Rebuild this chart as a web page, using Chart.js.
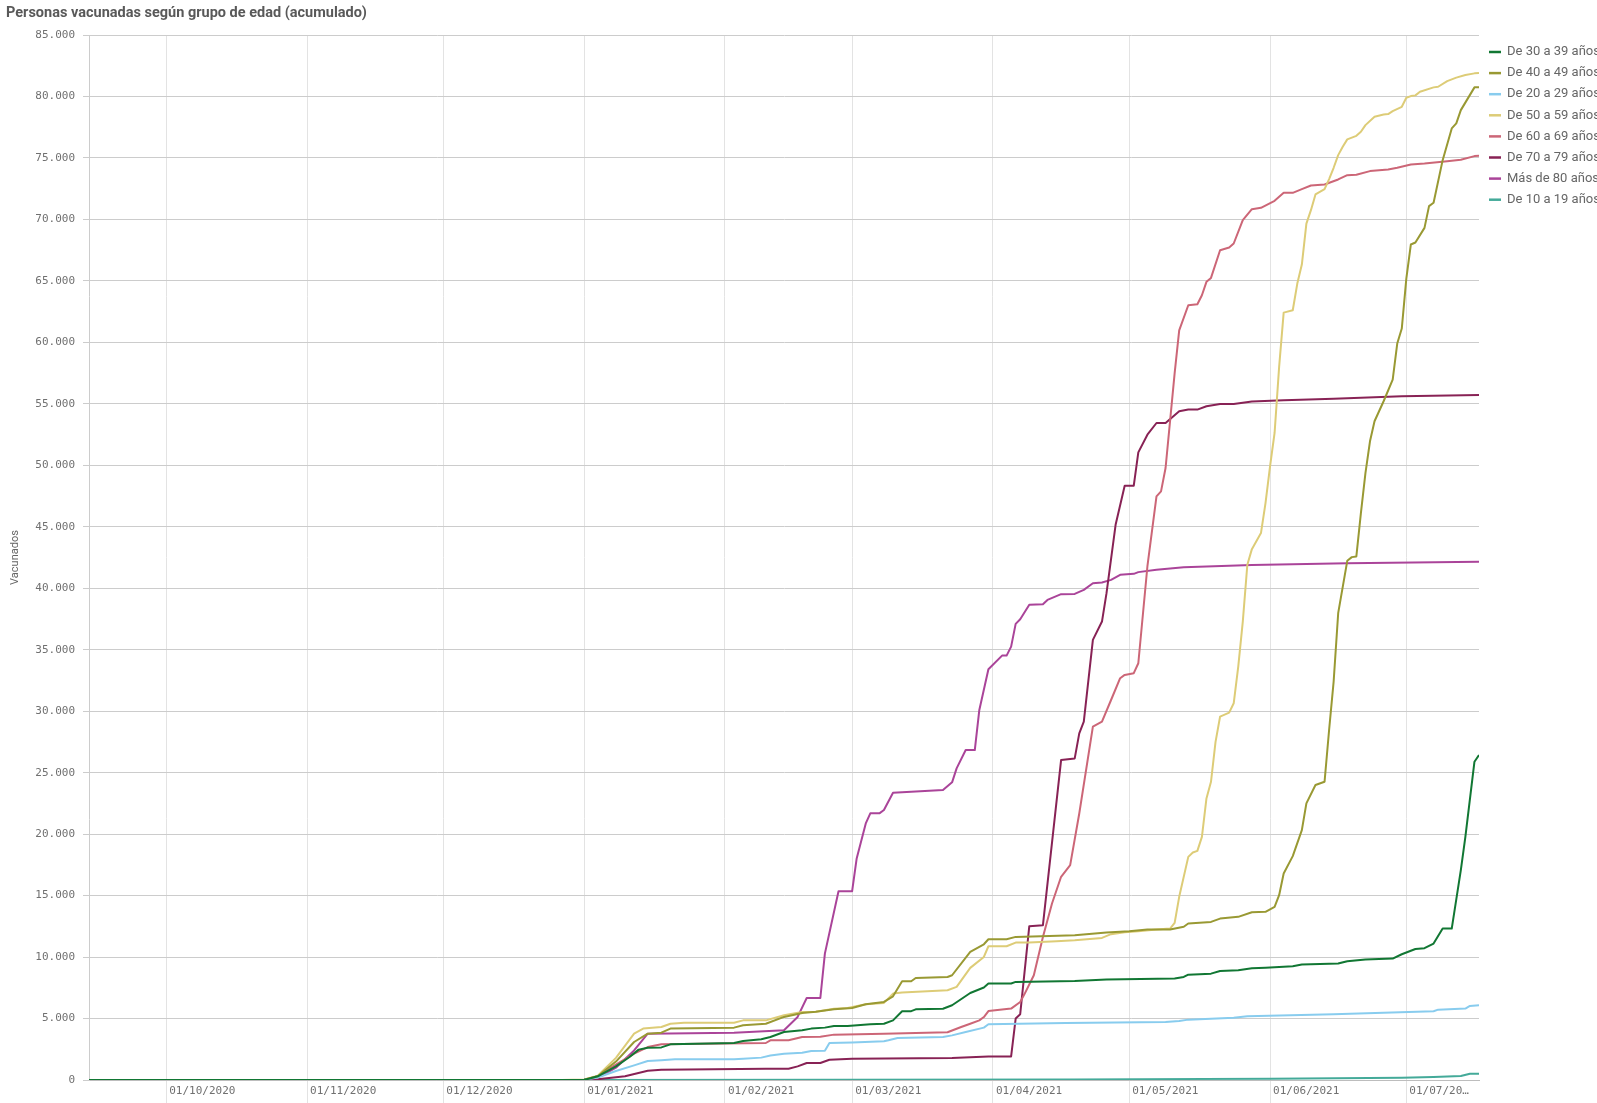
<!DOCTYPE html>
<html lang="es">
<head>
<meta charset="utf-8">
<title>Personas vacunadas según grupo de edad</title>
<script src="https://cdn.jsdelivr.net/npm/chart.js@4.4.1/dist/chart.umd.min.js"></script>
<style>
  html, body { margin: 0; padding: 0; background: #ffffff; }
  canvas { display: block; }
</style>
</head>
<body>
<canvas id="vacunados-edad-chart" width="1597" height="1103"></canvas>
<script>
// dias contados desde el 01/10/2020 (dia 0)
const tickDays = [0, 31, 61, 92, 123, 151, 182, 212, 243, 273];
const tickLabels = [
  "01/10/2020",
  "01/11/2020",
  "01/12/2020",
  "01/01/2021",
  "01/02/2021",
  "01/03/2021",
  "01/04/2021",
  "01/05/2021",
  "01/06/2021",
  "01/07/20…",
];

const seriesNames = [
  "De 30 a 39 años",
  "De 40 a 49 años",
  "De 20 a 29 años",
  "De 50 a 59 años",
  "De 60 a 69 años",
  "De 70 a 79 años",
  "Más de 80 años",
  "De 10 a 19 años",
];

// [dia, vacunados acumulados]
const de30a39 = [
  [-17, 0], [87, 0], [92, 30], [93, 100], [95, 300], [99, 1110], [102, 1870], [104, 2470],
  [106, 2630], [109, 2650], [111, 2900], [125, 3010], [127, 3170], [131, 3310], [133, 3500],
  [136, 3900], [140, 4040], [142, 4180], [145, 4260], [147, 4390], [150, 4400], [155, 4530],
  [158, 4580], [160, 4850], [162, 5590], [164, 5600], [165, 5750], [171, 5800], [173, 6080],
  [177, 7080], [180, 7520], [181, 7840], [186, 7850], [187, 7980], [200, 8060], [207, 8170],
  [222, 8250], [224, 8380], [225, 8570], [230, 8650], [232, 8870], [236, 8930], [239, 9090],
  [242, 9140], [248, 9250], [250, 9390], [258, 9470], [260, 9660], [264, 9800], [270, 9880],
  [272, 10230], [275, 10660], [277, 10720], [279, 11100], [281, 12320], [283, 12320],
  [285, 17070], [286, 19780], [288, 25890], [289, 26430],
];
const de40a49 = [
  [87, 0], [92, 30], [95, 300], [99, 1500], [103, 3090], [106, 3770], [109, 3850], [111, 4180],
  [125, 4260], [127, 4450], [132, 4580], [136, 5130], [140, 5450], [143, 5550], [147, 5750],
  [151, 5860], [154, 6160], [158, 6350], [160, 6810], [162, 8030], [164, 8030], [165, 8300],
  [172, 8380], [173, 8520], [177, 10420], [180, 11040], [181, 11450], [185, 11450],
  [187, 11640], [200, 11780], [207, 11990], [212, 12100], [216, 12240], [221, 12240],
  [224, 12460], [225, 12730], [230, 12860], [232, 13130], [236, 13270], [239, 13650],
  [242, 13680], [244, 14080], [245, 15030], [246, 16800], [248, 18210], [250, 20330],
  [251, 22500], [253, 23990], [255, 24260], [256, 28470], [257, 32410], [258, 37970],
  [260, 42230], [261, 42530], [262, 42590], [263, 46110], [264, 49370], [265, 51950],
  [266, 53580], [268, 55210], [270, 56970], [271, 59900], [272, 61120], [273, 65190],
  [274, 67960], [275, 68120], [277, 69310], [278, 71080], [279, 71350], [281, 74820],
  [283, 77400], [284, 77810], [285, 78890], [288, 80740], [289, 80740],
];
const de20a29 = [
  [87, 0], [92, 20], [95, 200], [99, 730], [103, 1190], [106, 1540], [109, 1600], [112, 1680],
  [125, 1680], [127, 1730], [131, 1820], [133, 2000], [136, 2140], [140, 2220], [142, 2360],
  [145, 2370], [146, 3010], [151, 3060], [158, 3150], [159, 3230], [161, 3420], [171, 3500],
  [173, 3630], [176, 3900], [180, 4260], [181, 4530], [198, 4640], [220, 4720], [223, 4800],
  [225, 4910], [235, 5070], [238, 5180], [257, 5340], [279, 5590], [280, 5720], [286, 5810],
  [287, 6020], [289, 6080],
];
const de50a59 = [
  [87, 0], [92, 40], [95, 350], [99, 1800], [103, 3770], [105, 4180], [109, 4310], [111, 4580],
  [114, 4660], [125, 4660], [127, 4850], [132, 4850], [136, 5260], [140, 5530], [143, 5560],
  [147, 5800], [150, 5860], [154, 6160], [158, 6270], [160, 7030], [162, 7110], [172, 7300],
  [174, 7570], [177, 9120], [180, 10010], [181, 10880], [185, 10880], [187, 11180],
  [190, 11180], [196, 11290], [200, 11370], [206, 11560], [208, 11860], [211, 12020],
  [214, 12100], [218, 12240], [221, 12320], [222, 12780], [223, 14900], [225, 18150],
  [226, 18510], [227, 18640], [228, 19780], [229, 22900], [230, 24260], [231, 27500],
  [232, 29560], [234, 29880], [235, 30640], [236, 33630], [237, 37290], [238, 41910],
  [239, 43180], [241, 44490], [242, 46930], [243, 49910], [244, 52630], [245, 58000],
  [246, 62420], [248, 62610], [249, 64780], [250, 66330], [251, 69660], [252, 70750],
  [253, 72030], [255, 72460], [256, 73280], [257, 74200], [258, 75230], [259, 75910],
  [260, 76510], [262, 76800], [263, 77130], [264, 77670], [266, 78350], [268, 78540],
  [269, 78570], [270, 78810], [272, 79160], [273, 79900], [274, 80030], [275, 80090],
  [276, 80390], [279, 80740], [280, 80790], [282, 81250], [284, 81530], [286, 81740],
  [288, 81880], [289, 81910],
];
const de60a69 = [
  [87, 0], [92, 30], [95, 300], [98, 1030], [103, 2140], [106, 2680], [109, 2900], [132, 3010],
  [133, 3230], [137, 3230], [140, 3500], [144, 3520], [147, 3690], [158, 3770], [172, 3880],
  [175, 4310], [177, 4580], [179, 4850], [180, 5120], [181, 5610], [186, 5810], [188, 6350],
  [189, 7030], [191, 8520], [193, 11640], [195, 14360], [197, 16530], [199, 17480],
  [201, 21680], [204, 28740], [206, 29150], [208, 30910], [210, 32680], [211, 32950],
  [213, 33090], [214, 33900], [216, 41770], [218, 47470], [219, 47880], [220, 49780],
  [222, 57500], [223, 60980], [225, 63020], [227, 63100], [228, 63830], [229, 64920],
  [230, 65240], [232, 67490], [234, 67710], [235, 68040], [237, 69940], [239, 70830],
  [241, 70940], [244, 71510], [246, 72160], [248, 72160], [250, 72460], [252, 72760],
  [255, 72840], [258, 73250], [260, 73600], [262, 73630], [265, 73930], [269, 74060],
  [271, 74200], [274, 74470], [277, 74550], [282, 74740], [285, 74850], [288, 75150],
  [289, 75180],
];
const de70a79 = [
  [87, 0], [92, 0], [95, 60], [101, 300], [106, 760], [109, 840], [132, 920], [137, 920],
  [139, 1110], [141, 1380], [144, 1380], [146, 1650], [151, 1730], [173, 1790], [181, 1920],
  [186, 1920], [187, 5000], [188, 5350], [190, 12510], [193, 12590], [197, 26020],
  [200, 26160], [201, 28200], [202, 29150], [204, 35800], [206, 37290], [207, 39600],
  [209, 45160], [211, 48340], [213, 48340], [214, 51050], [216, 52490], [218, 53440],
  [220, 53440], [223, 54390], [225, 54530], [227, 54530], [229, 54800], [232, 54990],
  [235, 54990], [239, 55180], [246, 55290], [257, 55420], [272, 55610], [289, 55720],
];
const mas80 = [
  [87, 0], [92, 30], [96, 380], [99, 1000], [103, 2400], [106, 3770], [125, 3850],
  [136, 4040], [139, 5130], [141, 6670], [144, 6670], [145, 10280], [148, 15360],
  [151, 15360], [152, 18020], [154, 20870], [155, 21690], [157, 21690], [158, 21960],
  [160, 23370], [171, 23580], [173, 24210], [174, 25350], [176, 26840], [178, 26840],
  [179, 30100], [181, 33410], [184, 34520], [185, 34520], [186, 35250], [187, 37100],
  [188, 37480], [190, 38650], [193, 38700], [194, 39050], [197, 39520], [200, 39540],
  [202, 39870], [204, 40410], [206, 40470], [208, 40680], [210, 41090], [213, 41170],
  [214, 41310], [218, 41500], [224, 41710], [239, 41880], [260, 42040], [289, 42150],
];
const de10a19 = [
  [87, 0], [150, 20], [200, 50], [243, 110], [272, 190], [279, 240], [285, 320], [287, 510],
  [289, 510],
];

const seriesValues = [de30a39, de40a49, de20a29, de50a59, de60a69, de70a79, mas80, de10a19];
const seriesColors = [
  "#117733",
  "#999933",
  "#88ccee",
  "#ddcc77",
  "#cc6677",
  "#882255",
  "#aa4499",
  "#44aa99",
];

const textGray = "#666666";
const monoFont = "'DejaVu Sans Mono', 'Liberation Mono', monospace";

function miles(v) {
  return String(v).replace(/\B(?=(\d{3})+(?!\d))/g, ".");
}

// titulo y leyenda dibujados a mano, como en el original
const tituloYLeyenda = {
  id: "tituloYLeyenda",
  afterDraw(chart) {
    const c = chart.ctx;
    c.save();
    c.fillStyle = "#595959";
    c.font = "bold 14.5px Roboto, 'Noto Sans', sans-serif";
    c.textBaseline = "middle";
    c.textAlign = "left";
    c.fillText("Personas vacunadas según grupo de edad (acumulado)", 6, 13);

    c.font = "13px Roboto, 'Noto Sans', sans-serif";
    chart.data.datasets.forEach((ds, i) => {
      const y = 52 + i * 21.1;
      c.strokeStyle = ds.borderColor;
      c.lineWidth = 2.5;
      c.beginPath();
      c.moveTo(1489, y);
      c.lineTo(1501, y);
      c.stroke();
      c.fillStyle = textGray;
      c.fillText(ds.label, 1507, y);
    });
    c.restore();
  },
};

const ctx = document.getElementById("vacunados-edad-chart").getContext("2d");
const chart = new Chart(ctx, {
  type: "line",
  data: {
    datasets: seriesNames.map((name, i) => ({
      label: name,
      data: seriesValues[i].map((p) => ({ x: p[0], y: p[1] })),
      borderColor: seriesColors[i],
      backgroundColor: seriesColors[i],
      borderWidth: 2,
      borderJoinStyle: "round",
      pointRadius: 0,
      tension: 0,
      fill: false,
    })),
  },
  options: {
    responsive: false,
    animation: false,
    devicePixelRatio: 1,
    layout: {
      padding: { top: 35, right: 118, left: 0, bottom: 0 },
    },
    plugins: {
      legend: { display: false },
      title: { display: false },
      tooltip: { enabled: false },
    },
    scales: {
      x: {
        type: "linear",
        min: -17,
        max: 289,
        afterBuildTicks: (scale) => {
          scale.ticks = tickDays.map((d) => ({ value: d }));
        },
        afterFit: (scale) => {
          scale.height = 23;
        },
        grid: {
          color: "#e3e3e3",
          tickColor: "#e3e3e3",
          tickLength: 24,
        },
        border: { display: true, color: "#bdbdbd" },
        ticks: {
          autoSkip: false,
          maxRotation: 0,
          align: "start",
          labelOffset: 3,
          padding: -19,
          color: "#707070",
          font: { family: monoFont, size: 11 },
          callback: (value) => tickLabels[tickDays.indexOf(value)],
        },
      },
      y: {
        min: 0,
        max: 85000,
        afterFit: (scale) => {
          scale.width = 89;
        },
        grid: {
          color: "#cccccc",
          tickColor: "#cccccc",
          tickLength: 6,
        },
        border: { display: true, color: "#cccccc" },
        ticks: {
          stepSize: 5000,
          padding: 8,
          color: "#707070",
          font: { family: monoFont, size: 11 },
          callback: (value) => miles(value),
        },
        title: {
          display: true,
          text: "Vacunados",
          color: textGray,
          font: { family: "Roboto, 'Noto Sans', sans-serif", size: 11 },
          padding: { top: 9, bottom: 0 },
        },
      },
    },
  },
  plugins: [tituloYLeyenda],
});
</script>
</body>
</html>
